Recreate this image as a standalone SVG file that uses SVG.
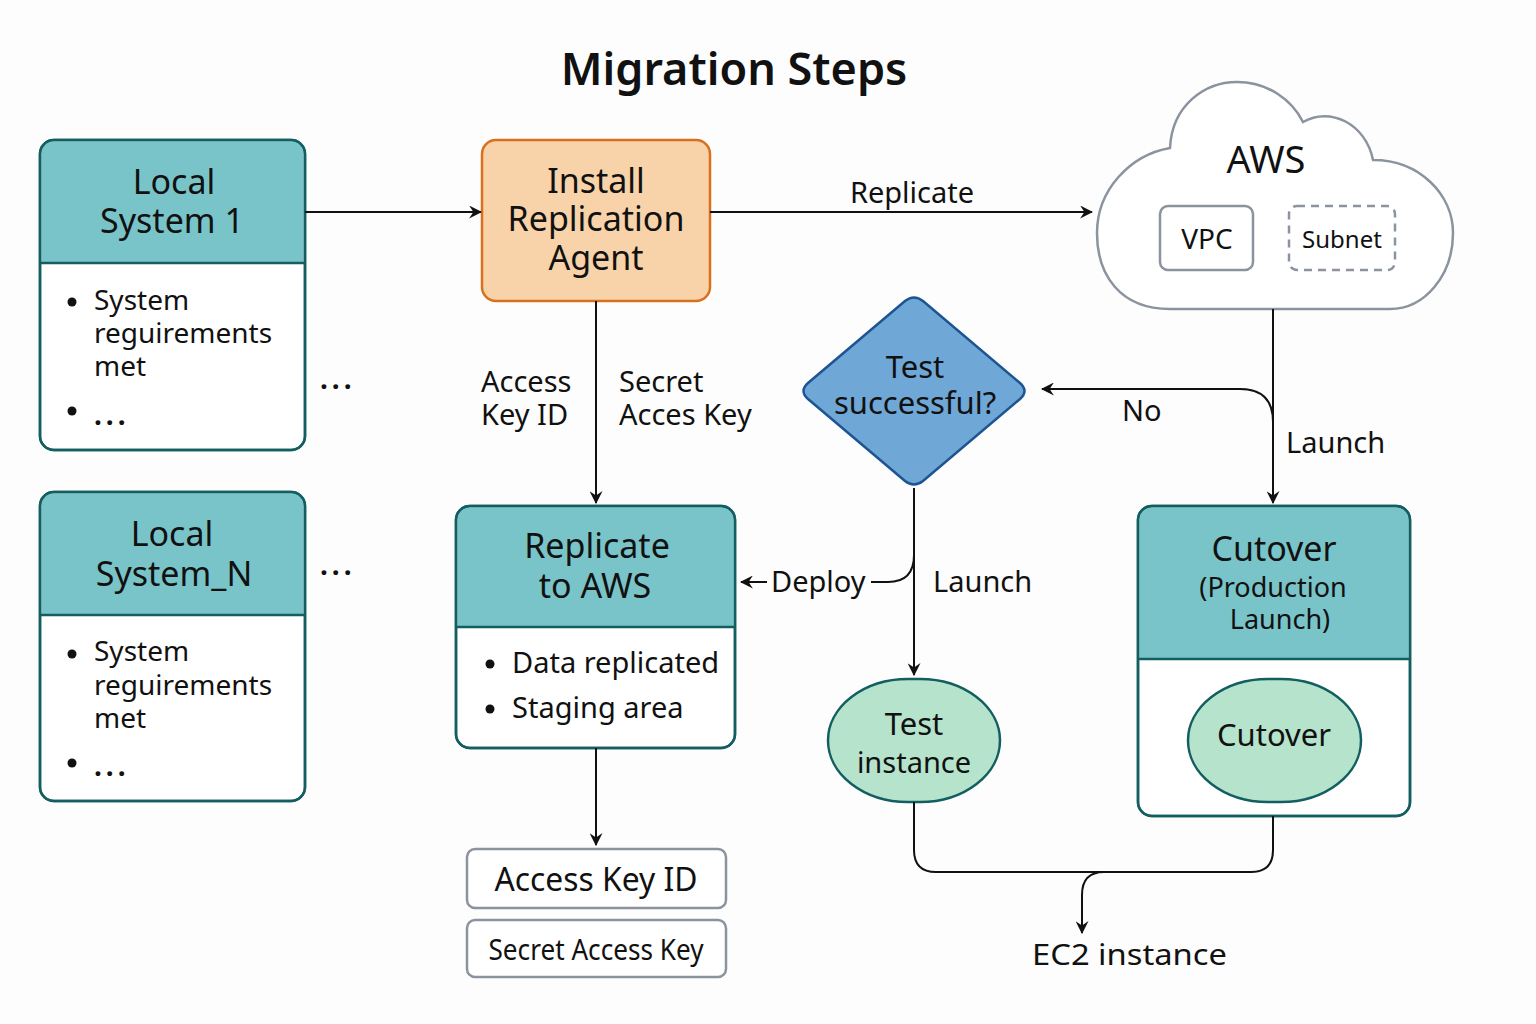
<svg xmlns="http://www.w3.org/2000/svg" width="1536" height="1024" viewBox="0 0 1536 1024">
<defs>
<marker id="arr" viewBox="0 0 12 12" refX="11" refY="6" markerWidth="13" markerHeight="13" markerUnits="userSpaceOnUse" orient="auto">
<path d="M0,0 L12,6 L0,12 L4,6 Z" fill="#111"/>
</marker>
<style>
text{font-family:"Noto Sans","Open Sans","DejaVu Sans",sans-serif;fill:#111;}
.title{font-size:45px;font-weight:600;}
.hdr{font-size:34px;text-anchor:middle;}
.body{font-size:28px;}
.lbl{font-size:29px;}
.mid{text-anchor:middle;}
.dots{font-size:28px;letter-spacing:4px;font-weight:bold;}
.card{fill:#fff;stroke:#135E61;stroke-width:2.5;}
.head{fill:#79C4C8;}
.div{stroke:#135E61;stroke-width:2.5;}
.conn{fill:none;stroke:#111;stroke-width:2;}
.gray{fill:#fff;stroke:#8A939E;stroke-width:2.5;}
.pill{fill:#B5E3CC;stroke:#135E61;stroke-width:2.5;}
</style>
</defs>
<rect width="1536" height="1024" fill="#FDFDFD"/>
<text class="title mid" x="734" y="85">Migration Steps</text>

<g id="local1">
<rect class="card" x="40" y="140" width="265" height="310" rx="14"/>
<path class="head" d="M54,141.3 H291 A12.7,12.7 0 0 1 303.7,154 V263 H41.3 V154 A12.7,12.7 0 0 1 54,141.3 Z"/>
<rect x="40" y="140" width="265" height="310" rx="14" fill="none" stroke="#135E61" stroke-width="2.5"/>
<line class="div" x1="40" y1="263" x2="305" y2="263"/>
<text class="hdr" x="174" y="194">Local</text>
<text class="hdr" x="172" y="233">System 1</text>
<circle cx="72" cy="302" r="4.5" fill="#111"/>
<text class="body" x="94" y="310">System</text>
<text class="body" x="94" y="343">reguirements</text>
<text class="body" x="94" y="376">met</text>
<circle cx="72" cy="411" r="4.5" fill="#111"/>
<text class="dots" x="94" y="425">...</text>
</g>
<text class="dots" x="320" y="389">...</text>

<g id="localN">
<rect class="card" x="40" y="492" width="265" height="309" rx="14"/>
<path class="head" d="M54,493.3 H291 A12.7,12.7 0 0 1 303.7,506 V615 H41.3 V506 A12.7,12.7 0 0 1 54,493.3 Z"/>
<rect x="40" y="492" width="265" height="309" rx="14" fill="none" stroke="#135E61" stroke-width="2.5"/>
<line class="div" x1="40" y1="615" x2="305" y2="615"/>
<text class="hdr" x="172" y="546">Local</text>
<text class="hdr" x="174" y="586">System_N</text>
<circle cx="72" cy="654" r="4.5" fill="#111"/>
<text class="body" x="94" y="661">System</text>
<text class="body" x="94" y="695">reguirements</text>
<text class="body" x="94" y="728">met</text>
<circle cx="72" cy="763" r="4.5" fill="#111"/>
<text class="dots" x="94" y="776">...</text>
</g>
<text class="dots" x="320" y="575">...</text>

<g id="install">
<rect x="482" y="140" width="228" height="161" rx="14" fill="#F8D2A8" stroke="#D9701E" stroke-width="2.5"/>
<text class="hdr" x="596" y="193">Install</text>
<text class="hdr" x="596" y="231">Replication</text>
<text class="hdr" x="596" y="270">Agent</text>
</g>

<g id="aws">
<path d="M1170,309 C1120,309 1097,275 1097,233 C1097,190 1130,155 1170,148 C1172,105 1205,82 1237,82 C1268,82 1292,100 1303,122 C1330,106 1366,124 1373,160 C1420,160 1453,195 1453,233 C1453,275 1425,309 1390,309 Z" fill="#fff" stroke="#8A939E" stroke-width="2.5"/>
<text class="mid" x="1266" y="173" style="font-size:38px">AWS</text>
<rect class="gray" x="1160" y="206" width="93" height="64" rx="8"/>
<text class="mid" x="1207" y="249" style="font-size:28px">VPC</text>
<rect x="1289" y="206" width="106" height="64" rx="8" fill="none" stroke="#8A939E" stroke-width="2.5" stroke-dasharray="8,6"/>
<text class="mid" x="1342" y="248" style="font-size:24px">Subnet</text>
</g>

<g id="decision">
<path d="M905,301 Q914,294 923,301 L1020,383 Q1029,391 1020,399 L923,481 Q914,488 905,481 L808,399 Q799,391 808,383 Z" fill="#6FA7D6" stroke="#1D5592" stroke-width="2.5"/>
<text class="mid" x="915" y="378" style="font-size:31px">Test</text>
<text class="mid" x="915" y="414" style="font-size:31px">successful?</text>
</g>

<g id="replicate">
<rect class="card" x="456" y="506" width="279" height="242" rx="14"/>
<path class="head" d="M470,507.3 H721 A12.7,12.7 0 0 1 733.7,520 V627 H457.3 V520 A12.7,12.7 0 0 1 470,507.3 Z"/>
<rect x="456" y="506" width="279" height="242" rx="14" fill="none" stroke="#135E61" stroke-width="2.5"/>
<line class="div" x1="456" y1="627" x2="735" y2="627"/>
<text class="hdr" x="597" y="558">Replicate</text>
<text class="hdr" x="595" y="598">to AWS</text>
<circle cx="490" cy="664" r="4.5" fill="#111"/>
<text class="body" x="512" y="673" style="font-size:29px">Data replicated</text>
<circle cx="490" cy="709" r="4.5" fill="#111"/>
<text class="body" x="512" y="718" style="font-size:29px">Staging area</text>
</g>

<g id="testinstance">
<rect class="pill" x="828" y="679" width="172" height="123" rx="80" ry="62"/>
<text class="mid" x="914" y="735" style="font-size:31px">Test</text>
<text class="mid" x="914" y="773" style="font-size:29px">instance</text>
</g>

<g id="cutover">
<rect class="card" x="1138" y="506" width="272" height="310" rx="14"/>
<path class="head" d="M1152,507.3 H1396 A12.7,12.7 0 0 1 1408.7,520 V659 H1139.3 V520 A12.7,12.7 0 0 1 1152,507.3 Z"/>
<rect x="1138" y="506" width="272" height="310" rx="14" fill="none" stroke="#135E61" stroke-width="2.5"/>
<line class="div" x1="1138" y1="659" x2="1410" y2="659"/>
<text class="hdr" x="1274" y="561">Cutover</text>
<text class="mid" x="1273" y="597" style="font-size:27px">(Production</text>
<text class="mid" x="1280" y="629" style="font-size:27px">Launch)</text>
<rect class="pill" x="1188" y="679" width="173" height="123" rx="80" ry="62"/>
<text class="mid" x="1274" y="746" style="font-size:31px">Cutover</text>
</g>

<g id="accesskey">
<rect class="gray" x="467" y="849" width="259" height="59" rx="8"/>
<text class="mid" x="596" y="891" style="font-size:32px" textLength="203" lengthAdjust="spacingAndGlyphs">Access Key ID</text>
</g>
<g id="secretkey">
<rect class="gray" x="467" y="920" width="259" height="57" rx="8"/>
<text class="mid" x="596" y="960" style="font-size:29px" textLength="215" lengthAdjust="spacingAndGlyphs">Secret Access Key</text>
</g>

<g id="ec2">
<text x="1032" y="965" style="font-size:29px" textLength="195" lengthAdjust="spacingAndGlyphs">EC2 instance</text>
</g>

<g id="connectors">
<line class="conn" x1="305" y1="212" x2="481" y2="212" marker-end="url(#arr)"/>
<line class="conn" x1="710" y1="212" x2="1092" y2="212" marker-end="url(#arr)"/>
<line class="conn" x1="596" y1="301" x2="596" y2="503" marker-end="url(#arr)"/>
<line class="conn" x1="596" y1="748" x2="596" y2="845" marker-end="url(#arr)"/>
<line class="conn" x1="1273" y1="309" x2="1273" y2="503" marker-end="url(#arr)"/>
<path class="conn" d="M1273,422 Q1273,389 1240,389 L1042,389" marker-end="url(#arr)"/>
<line class="conn" x1="914" y1="488" x2="914" y2="675" marker-end="url(#arr)"/>
<path class="conn" d="M914,555 Q914,582 888,582 L871,582"/>
<line class="conn" x1="767" y1="582" x2="741" y2="582" marker-end="url(#arr)"/>
<path class="conn" d="M914,802 V850 Q914,872 936,872 H1251 Q1273,872 1273,850 V816"/>
<path class="conn" d="M1104,872 Q1082,872 1082,895 V933" marker-end="url(#arr)"/>
</g>

<g id="labels">
<text class="lbl mid" x="912" y="203">Replicate</text>
<text class="lbl" x="481" y="392">Access</text>
<text class="lbl" x="481" y="425">Key ID</text>
<text class="lbl" x="619" y="392">Secret</text>
<text class="lbl" x="619" y="425">Acces Key</text>
<text class="lbl" x="1122" y="421">No</text>
<text class="lbl" x="1286" y="453">Launch</text>
<text class="lbl" x="771" y="592">Deploy</text>
<text class="lbl" x="933" y="592">Launch</text>
</g>
</svg>
